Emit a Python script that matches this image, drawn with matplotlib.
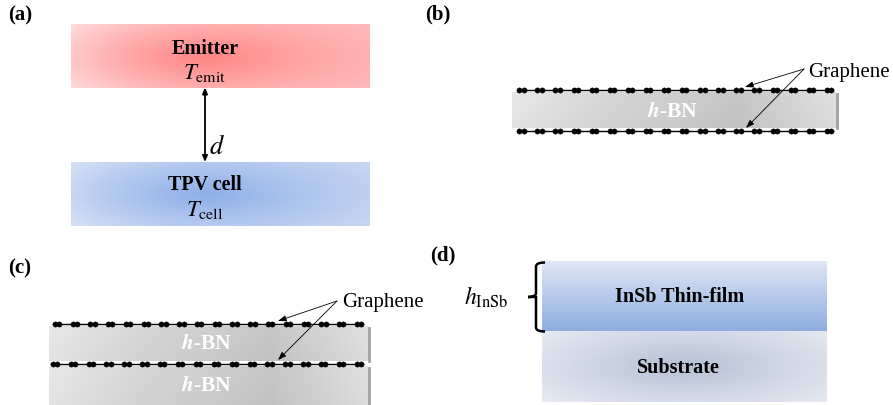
import numpy as np
import matplotlib.pyplot as plt
from matplotlib.colors import to_rgb
from matplotlib.path import Path
from matplotlib.patches import PathPatch

plt.rcParams['font.family'] = ['Liberation Serif', 'DejaVu Serif']
plt.rcParams['mathtext.fontset'] = 'stix'

# panel texts
panel_labels = ["(a)", "(b)", "(c)", "(d)"]
emitter_name, emitter_temp = "Emitter", r"$T_{\mathrm{emit}}$"
cell_name, cell_temp = "TPV cell", r"$T_{\mathrm{cell}}$"
gap_label = r"$d$"
hbn_label = r"$\mathbfit{h}$-BN"
graphene_label = "Graphene"
film_name, substrate_name = "InSb Thin-film", "Substrate"
film_thickness = r"$h_{\mathrm{InSb}}$"
n_pairs = 18  # graphene dot pairs per sheet


def grid(x0, x1, y0, y1):
    X, Y = np.meshgrid(np.linspace(x0, x1, 300), np.linspace(y0, y1, 80))
    return X, Y


def mix(c0, c1, t):
    c0 = np.array(to_rgb(c0))
    c1 = np.array(to_rgb(c1))
    return c0 * (1 - t[..., None]) + c1 * t[..., None]


def show(ax, img, x0, x1, y0, y1):
    ax.imshow(img, extent=(x0, x1, y1, y0), origin='upper', interpolation='bilinear',
              aspect='auto', zorder=1)


def radial_box(ax, x0, x1, y0, y1, cx, cy, rx, ry, center, left, right):
    X, Y = grid(x0, x1, y0, y1)
    t = np.clip(np.sqrt(((X - cx) / rx) ** 2 + ((Y - cy) / ry) ** 2), 0, 1)
    s = (X - x0) / (x1 - x0)
    edge = mix(left, right, s)
    c = np.array(to_rgb(center))
    img = c * (1 - t[..., None]) + edge * t[..., None]
    show(ax, img, x0, x1, y0, y1)


def hbn_box(ax, x0, x1, y0, y1):
    X, Y = grid(x0, x1, y0, y1)
    s = (X - x0) / (x1 - x0)
    g = np.interp(s, [0, 0.3, 0.7, 1], [0.91, 0.84, 0.78, 0.88])
    g = g - 0.02 * ((Y - y0) / (y1 - y0))
    img = np.dstack([g, g, g])
    show(ax, img, x0, x1, y0, y1)
    ax.plot([x1 + 1, x1 + 1], [y0 + 2, y1], color='#a0a0a0', lw=2, zorder=2)


def graphene(ax, x0, x1, y):
    ax.plot([x0 - 4, x1 + 4], [y, y], color='black', lw=1, zorder=4)
    xs = np.linspace(x0, x1, n_pairs)
    for off in (-2.2, 2.2):
        ax.plot(xs + off, np.full_like(xs, y), 'o', color='black', ms=3.8,
                mec='black', mew=0.3, zorder=5)


def hbn_text(ax, x, y):
    ax.text(x, y, hbn_label, color='white', fontsize=15.5, fontweight='bold',
            ha='center', va='center', zorder=6)


def pointer(ax, text_xy, targets):
    for tx, ty in targets:
        ax.annotate('', xy=(tx, ty), xytext=text_xy,
                    arrowprops=dict(arrowstyle='-|>,head_length=0.5,head_width=0.18',
                                    color='black', lw=0.6, shrinkA=0, shrinkB=0),
                    zorder=7)


fig = plt.figure(figsize=(8.93, 4.06), dpi=100)
ax = fig.add_axes([0, 0, 1, 1])
ax.set_xlim(0, 893)
ax.set_ylim(406, 0)
ax.axis('off')

# panel labels
for lab, (x, y) in zip(panel_labels, [(8, 15), (425, 14), (8, 268), (430, 255)]):
    ax.text(x, y, lab, fontsize=15, fontweight='bold', ha='left', va='center')

# (a) emitter / TPV cell
radial_box(ax, 71, 370, 25, 89, 207, 58, 185, 55, '#ff8585', '#ffe0e0', '#ffb7b7')
radial_box(ax, 71, 370, 163, 227, 207, 195, 185, 55, '#8eaee8', '#dbe5f6', '#c5d5f1')
ax.text(205, 49, emitter_name, fontsize=14.5, fontweight='bold', ha='center', va='center')
ax.text(205, 73, emitter_temp, fontsize=16.5, ha='center', va='center')
ax.text(205, 185, cell_name, fontsize=14.5, fontweight='bold', ha='center', va='center')
ax.text(205, 210, cell_temp, fontsize=16.5, ha='center', va='center')
ax.annotate('', xy=(205, 88.5), xytext=(205, 163),
            arrowprops=dict(arrowstyle='<|-|>,head_length=0.35,head_width=0.15',
                            color='black', lw=1.3, shrinkA=0, shrinkB=0))
ax.text(209, 147, gap_label, fontsize=19, ha='left', va='center')

# (b) graphene / h-BN / graphene
hbn_box(ax, 512, 836, 93, 129)
graphene(ax, 521.5, 829, 91)
graphene(ax, 521.5, 829, 132)
hbn_text(ax, 673, 112)
ax.text(808, 73, graphene_label, fontsize=15, ha='left', va='center')
pointer(ax, (804, 70), [(745, 88), (746, 129)])

# (c) graphene / h-BN / graphene / h-BN
hbn_box(ax, 49, 368, 327, 362)
hbn_box(ax, 49, 368, 367, 408)
graphene(ax, 57, 359, 325)
graphene(ax, 55, 359, 364.5)
hbn_text(ax, 207, 344)
hbn_text(ax, 207, 386)
ax.text(342, 303, graphene_label, fontsize=15, ha='left', va='center')
pointer(ax, (337, 302), [(278, 322), (278, 361)])

# (d) InSb thin film on substrate
X, Y = grid(542, 827, 262, 332)
t = (Y - 262) / 70
show(ax, mix('#dfe6f5', '#8eaee0', t), 542, 827, 262, 332)
radial_box(ax, 542, 827, 332, 403, 684, 367, 190, 55, '#b6c1d6', '#e8ebf3', '#e6e9f1')
ax.text(680, 297, film_name, fontsize=14.5, fontweight='bold', ha='center', va='center')
ax.text(678, 368, substrate_name, fontsize=14.5, fontweight='bold', ha='center', va='center')
ax.text(464, 297, film_thickness, fontsize=17, ha='left', va='center')

# curly brace
bx, top, bot, mid = 536, 263.5, 332.5, 298
verts = [(545, top), (bx, top), (bx, top + 4), (bx, mid - 4), (bx, mid), (528, mid),
         (bx, mid), (bx, mid + 4), (bx, bot - 4), (bx, bot), (545, bot)]
codes = [Path.MOVETO, Path.CURVE3, Path.CURVE3, Path.LINETO, Path.CURVE3, Path.CURVE3,
         Path.LINETO, Path.CURVE3, Path.LINETO, Path.CURVE3, Path.CURVE3]
ax.add_patch(PathPatch(Path(verts, codes), fill=False, lw=1.8, ec='black',
                       capstyle='butt', zorder=5))

fig.savefig('out.png', dpi=100)
